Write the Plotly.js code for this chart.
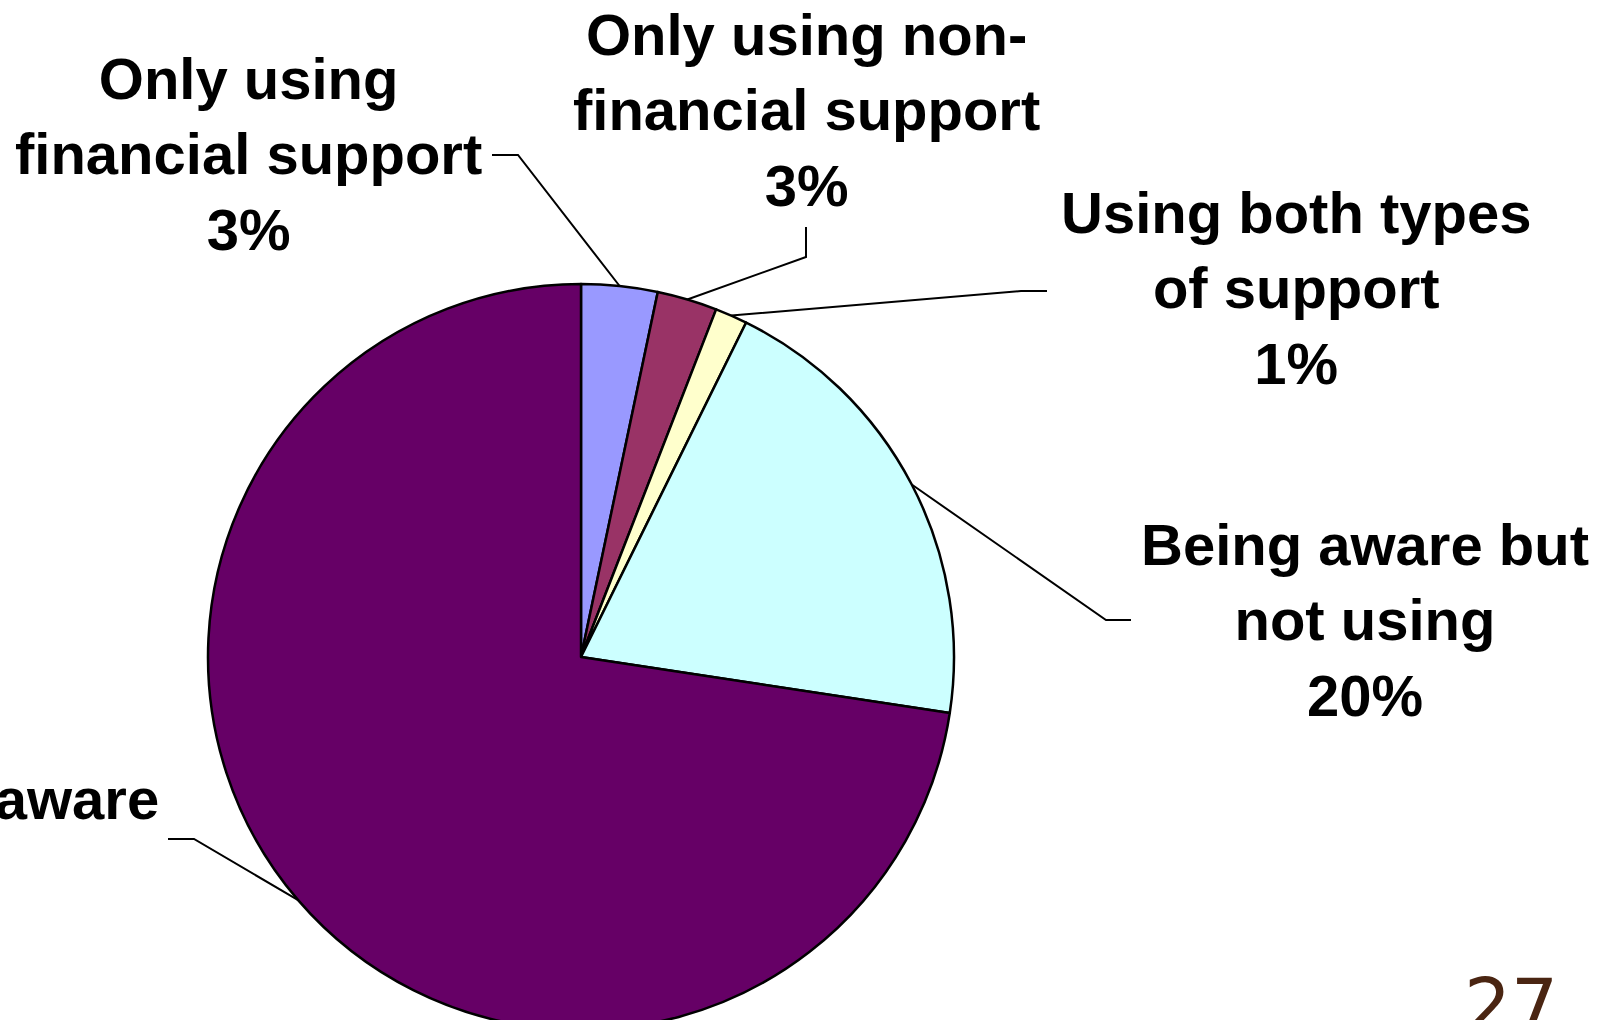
<!DOCTYPE html>
<html>
<head>
<meta charset="utf-8">
<script src="https://cdn.plot.ly/plotly-3.0.1.min.js"></script>
<style>
  html, body { margin: 0; padding: 0; overflow: hidden; background: #ffffff; }
  #chart { width: 1601px; height: 1060px; }
</style>
</head>
<body>
<div id="chart"></div>
<script>
// ---- data ----
const categories = ['Only using<br>financial support', 'Only using non-<br>financial support', 'Using both types<br>of support', 'Being aware but<br>not using', 'Not aware'];
const values = [3.3, 2.6, 1.4, 20.1, 72.6];
const colors = ['#9999FF', '#993366', '#FFFFCC', '#CCFFFF', '#660066'];
const showPercent = [true, true, true, true, false];
const pageNumber = '27';

// ---- layout geometry (pixels) ----
const W = 1601, H = 1060;
const cx = 581, cy = 657, R = 373;
// label anchor positions (centre of text block) and leader elbows
const labelPos = [
  {x: 248, y: 154, xanchor: 'center'},
  {x: 806, y: 110, xanchor: 'center'},
  {x: 1296, y: 288, xanchor: 'center'},
  {x: 1365, y: 620, xanchor: 'center'},
  {x: 161, y: 798, xanchor: 'right'}
];
const leaderElbow = [[518, 155], [806, 257], [1021, 291], [1106, 620], [194, 839]];
const leaderEnd = [[492, 155], [806, 227], [1047, 291], [1131, 620], [168, 839]];

const px = x => x / W;
const py = y => 1 - y / H;

const total = values.reduce((a, b) => a + b, 0);
const plainLabels = categories.map(c => c.replace('<br>', ' '));

const pie = {
  type: 'pie',
  labels: plainLabels,
  values: values,
  sort: false,
  direction: 'clockwise',
  rotation: 0,
  textinfo: 'none',
  hoverinfo: 'label+percent',
  showlegend: false,
  marker: { colors: colors, line: { color: '#000000', width: 2.5 } },
  domain: { x: [px(cx - R), px(cx + R)], y: [py(cy + R), py(cy - R)] }
};

const annotations = [];
const shapes = [];
let cum = 0;
values.forEach((v, i) => {
  const pct = Math.round(v / total * 100) + '%';
  const text = showPercent[i] ? categories[i] + '<br>' + pct : categories[i];
  annotations.push({
    xref: 'paper', yref: 'paper',
    x: px(labelPos[i].x), y: py(labelPos[i].y),
    xanchor: labelPos[i].xanchor, yanchor: 'middle',
    text: text, showarrow: false, align: 'center',
    font: { family: 'Liberation Sans, Arial, sans-serif', size: 58, color: '#000000', weight: 'bold' }
  });
  const m = (cum + v / 2) / total;
  cum += v;
  const th = 2 * Math.PI * m;
  const ex = cx + R * Math.sin(th), ey = cy - R * Math.cos(th);
  shapes.push({
    type: 'path', xref: 'paper', yref: 'paper',
    path: `M ${px(ex)},${py(ey)} L ${px(leaderElbow[i][0])},${py(leaderElbow[i][1])} L ${px(leaderEnd[i][0])},${py(leaderEnd[i][1])}`,
    line: { color: '#000000', width: 2 }
  });
});

annotations.push({
  xref: 'paper', yref: 'paper', x: px(1511), y: py(1006),
  xanchor: 'center', yanchor: 'middle', showarrow: false,
  text: pageNumber,
  font: { family: 'DejaVu Sans, Verdana, sans-serif', size: 74, color: '#4a2512' }
});

const layout = {
  width: W, height: H,
  margin: { l: 0, r: 0, t: 0, b: 0 },
  paper_bgcolor: '#ffffff', plot_bgcolor: '#ffffff',
  showlegend: false,
  annotations: annotations,
  shapes: shapes
};

Plotly.newPlot('chart', [pie], layout, { displayModeBar: false, staticPlot: true });
</script>
</body>
</html>
